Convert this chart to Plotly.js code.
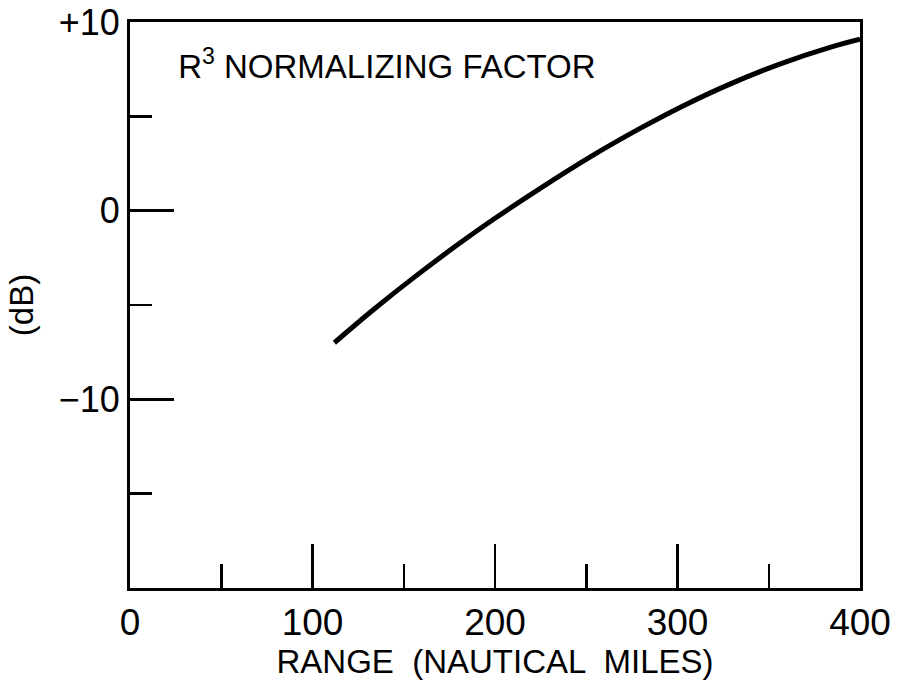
<!DOCTYPE html>
<html>
<head>
<meta charset="utf-8">
<script src="https://cdn.plot.ly/plotly-3.0.1.min.js"></script>
<style>html,body{margin:0;padding:0;background:#fff;}#chart{width:899px;height:686px;}</style>
</head>
<body>
<div id="chart"></div>
<script>
// Data
const rangeNm  = [112, 134, 156, 180, 199, 225, 252, 279.5, 303, 329, 356, 384, 400];
const dbValues = [-7.0, -5.2, -3.51, -1.77, -0.47, 1.2, 2.84, 4.36, 5.55, 6.72, 7.77, 8.67, 9.09];

const xTickVals = [0, 100, 200, 300, 400];
const xTickText = ['0', '100', '200', '300', '400'];
const xMinorVals = [50, 150, 250, 350];
const yTickVals = [10, 0, -10];
const yTickText = ['+10', '0', '\u221210'];
const yMinorVals = [5, -5, -15];

const chartTitle = 'R<sup>3</sup> NORMALIZING FACTOR';
const xTitle = 'RANGE  (NAUTICAL  MILES)';
const yTitle = '(dB)';

const trace = {
  x: rangeNm,
  y: dbValues,
  type: 'scatter',
  mode: 'lines',
  line: {color: '#000', width: 5, shape: 'spline', smoothing: 1},
  hoverinfo: 'skip'
};

const layout = {
  width: 899,
  height: 686,
  margin: {l: 130, r: 39, t: 22, b: 98},
  paper_bgcolor: '#fff',
  plot_bgcolor: '#fff',
  showlegend: false,
  font: {family: 'Liberation Sans, Arial, sans-serif', color: '#000'},
  title: {
    text: chartTitle,
    xref: 'paper', yref: 'paper',
    x: 0.066, xanchor: 'left',
    y: 0.922, yanchor: 'middle',
    font: {size: 33, color: '#000', family: 'Liberation Sans, Arial, sans-serif'}
  },
  xaxis: {
    range: [0, 400],
    tickmode: 'array',
    tickvals: xTickVals,
    ticktext: xTickText,
    ticks: 'inside',
    ticklen: 44,
    tickwidth: 2.5,
    tickcolor: '#000',
    minor: {tickmode: 'array', tickvals: xMinorVals, ticks: 'inside', ticklen: 24, tickwidth: 2.5, tickcolor: '#000'},
    showgrid: false,
    zeroline: false,
    showline: true,
    linewidth: 3,
    linecolor: '#000',
    mirror: true,
    tickfont: {size: 37, color: '#000'},
    title: {text: xTitle, font: {size: 33, color: '#000'}, standoff: 8}
  },
  yaxis: {
    range: [-20, 10],
    tickmode: 'array',
    tickvals: yTickVals,
    ticktext: yTickText,
    ticks: 'inside',
    ticklen: 44,
    tickwidth: 2.5,
    tickcolor: '#000',
    minor: {tickmode: 'array', tickvals: yMinorVals, ticks: 'inside', ticklen: 22, tickwidth: 2.5, tickcolor: '#000'},
    showgrid: false,
    zeroline: false,
    showline: true,
    linewidth: 3,
    linecolor: '#000',
    mirror: true,
    tickfont: {size: 36, color: '#000'},
    title: {text: yTitle, font: {size: 33, color: '#000'}, standoff: 16}
  }
};

Plotly.newPlot('chart', [trace], layout, {displayModeBar: false, staticPlot: true});
</script>
</body>
</html>
